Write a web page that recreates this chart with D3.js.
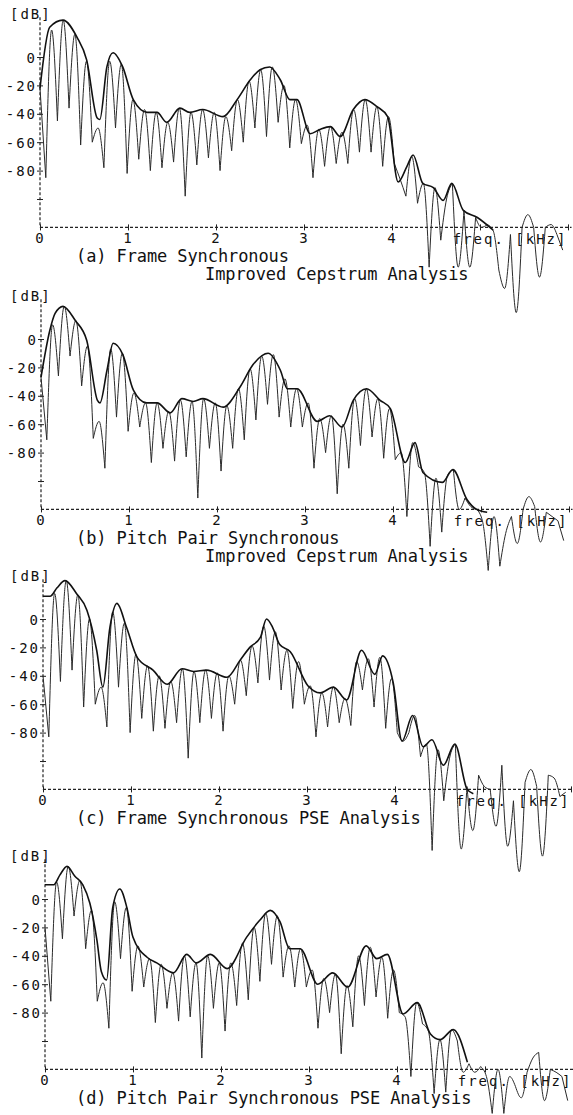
<!DOCTYPE html>
<html>
<head>
<meta charset="utf-8">
<script src="https://cdn.jsdelivr.net/npm/d3@7"></script>
<style>
    body { margin: 0; background: #fff; }
    svg { display: block; }
    .lbl { font-family: "DejaVu Sans Mono", monospace; font-size: 14px; letter-spacing: 2px; fill: #111; }
    .cap { font-family: "DejaVu Sans Mono", monospace; font-size: 17px; letter-spacing: -0.1px; fill: #111; }
</style>
</head>
<body>
<div id="chart"></div>
<script>

// tick values and labels shared by all four panels
const freqTicks = [0, 1, 2, 3, 4, 5, 6];
const freqLabels = ["0", "1", "2", "3", "4", "", ""];
const dbTicks = [0, -20, -40, -60, -80, -100];
const dbLabels = ["0", "-20", "-40", "-60", "-80", ""];

// spacing of the harmonic line samples (kHz), half a pitch period apart
const halfPitch = 0.066;

// spectral envelopes, [kHz, dB]
const envA = [[0,-22],[0.11,21],[0.26,26],[0.42,14],[0.53,-2],[0.65,-43],[0.68,-44],[0.76,-7],[0.83,3],[0.94,-7],[1.06,-30],[1.22,-39],[1.33,-39],[1.44,-46],[1.59,-36],[1.70,-39],[1.85,-37],[2.08,-42],[2.24,-30],[2.39,-16],[2.50,-9],[2.61,-7],[2.73,-16],[2.84,-30],[2.92,-30],[3.07,-54],[3.18,-51],[3.30,-49],[3.41,-56],[3.56,-37],[3.69,-30],[3.83,-35],[3.95,-42],[4.07,-88],[4.17,-77],[4.24,-69],[4.35,-89],[4.47,-92],[4.58,-101],[4.68,-89],[4.81,-108],[4.97,-113],[5.15,-122]];
const envB = [[0,-27],[0.1,6],[0.16,18],[0.25,23],[0.39,13],[0.52,-1],[0.64,-43],[0.67,-45],[0.75,-22],[0.82,-3],[0.93,-11],[1.05,-36],[1.2,-45],[1.32,-45],[1.47,-52],[1.6,-42],[1.73,-44],[1.84,-42],[2.07,-48],[2.26,-34],[2.41,-18],[2.58,-10],[2.72,-22],[2.8,-35],[2.91,-35],[3.14,-58],[3.28,-54],[3.42,-62],[3.55,-43],[3.7,-35],[3.85,-43],[3.97,-49],[4.14,-87],[4.25,-73],[4.34,-94],[4.56,-101],[4.68,-92],[4.84,-113],[4.95,-120],[5.07,-122]];
const envC = [[0,16],[0.08,16],[0.16,22],[0.25,27],[0.38,18],[0.5,6],[0.61,-22],[0.68,-48],[0.76,-6],[0.84,11],[0.95,-6],[1.07,-27],[1.25,-36],[1.41,-46],[1.58,-35],[1.71,-37],[1.86,-36],[2.09,-41],[2.24,-29],[2.35,-20],[2.47,-13],[2.54,0],[2.61,-6],[2.69,-18],[2.81,-23],[3.01,-47],[3.15,-52],[3.3,-48],[3.45,-57],[3.62,-22],[3.77,-39],[3.86,-26],[3.98,-45],[4.08,-86],[4.2,-68],[4.32,-90],[4.42,-85],[4.55,-103],[4.68,-88],[4.82,-120],[4.89,-123]];
const envD = [[0,10],[0.1,10],[0.17,17],[0.25,23],[0.34,16],[0.43,10],[0.51,-3],[0.59,-29],[0.64,-51],[0.7,-57],[0.77,-6],[0.85,7],[0.93,-6],[1.0,-27],[1.16,-41],[1.27,-45],[1.46,-52],[1.61,-39],[1.72,-45],[1.88,-39],[2.07,-49],[2.29,-27],[2.44,-15],[2.56,-8],[2.67,-16],[2.78,-35],[2.9,-35],[3.1,-60],[3.27,-52],[3.44,-62],[3.65,-33],[3.77,-42],[3.89,-39],[4.07,-81],[4.23,-73],[4.38,-95],[4.49,-99],[4.64,-92],[4.8,-115]];

// harmonic spectra (dB), one value every halfPitch kHz: peaks on even, dips on odd
const harmA = [-22,-85,19,-45,26,-36,16,-62,-3,-60,
    -50,-78,-3,-50,-5,-82,-30,-72,-37,-80,
    -39,-78,-46,-74,-36,-98,-39,-76,-37,-71,
    -39,-80,-42,-66,-30,-60,-17,-50,-9,-56,
    -7,-46,-20,-64,-30,-61,-48,-85,-51,-77,
    -49,-75,-53,-75,-37,-67,-30,-67,-35,-77,
    -42,-75,-86,-98,-70,-103,-89,-148,-92,-129,
    -100,-89,-148,-108,-148,-113,-120,-118,-122,-150,
    -163,-125,-180,-120,-111,-120,-155,-120,-118,-125,
    -136];
const harmB = [-27,-71,10,-26,23,-12,13,-33,-5,-70,
    -58,-91,-7,-55,-10,-65,-38,-62,-45,-87,
    -45,-77,-51,-86,-43,-83,-44,-112,-42,-77,
    -45,-93,-47,-77,-35,-71,-21,-57,-12,-46,
    -11,-55,-28,-62,-35,-62,-45,-91,-56,-80,
    -54,-109,-60,-91,-42,-75,-35,-69,-42,-84,
    -49,-85,-80,-125,-73,-90,-94,-146,-98,-136,
    -96,-92,-120,-112,-118,-120,-128,-163,-125,-160,
    -137,-125,-144,-120,-111,-118,-143,-122,-125,-128,
    -142];
const harmC = [-40,-83,18,-44,27,-36,17,-62,0,-60,
    -48,-76,5,-48,-3,-80,-25,-70,-33,-79,
    -40,-77,-44,-73,-35,-98,-37,-73,-36,-70,
    -38,-79,-40,-60,-29,-54,-19,-45,-5,-43,
    -9,-50,-22,-63,-30,-60,-47,-83,-52,-76,
    -48,-73,-56,-75,-30,-50,-28,-62,-27,-77,
    -42,-80,-86,-80,-68,-97,-88,-163,-92,-128,
    -98,-88,-162,-118,-149,-110,-118,-120,-146,-103,
    -160,-128,-178,-115,-106,-118,-167,-110,-112,-125,
    -122];
const harmD = [-20,-72,12,-28,23,-12,13,-35,-8,-72,
    -59,-91,-2,-42,-6,-65,-33,-62,-42,-87,
    -46,-77,-52,-86,-40,-83,-45,-112,-40,-77,
    -45,-93,-45,-75,-31,-71,-20,-58,-10,-46,
    -12,-55,-33,-62,-35,-62,-50,-91,-56,-80,
    -53,-109,-61,-90,-40,-75,-34,-69,-41,-84,
    -50,-80,-83,-125,-73,-88,-93,-137,-99,-136,
    -92,-100,-122,-116,-122,-118,-125,-151,-120,-151,
    -125,-132,-140,-122,-112,-108,-142,-120,-122,-125,
    -142];

const captions = [
    ["(a) Frame Synchronous", "Improved Cepstrum Analysis"],
    ["(b) Pitch Pair Synchronous", "Improved Cepstrum Analysis"],
    ["(c) Frame Synchronous PSE Analysis"],
    ["(d) Pitch Pair Synchronous PSE Analysis"]
];

const panels = [
    { env: envA, harm: harmA, cap: captions[0], top: 0, left: 40 },
    { env: envB, harm: harmB, cap: captions[1], top: 282, left: 41 },
    { env: envC, harm: harmC, cap: captions[2], top: 562, left: 43 },
    { env: envD, harm: harmD, cap: captions[3], top: 842, left: 45 }
];

const width = 573, height = 1115;
const pxPerKHz = 88, pxPerDb = 1.42, zeroDbY = 57;

const svg = d3.select("#chart").append("svg")
    .attr("width", width)
    .attr("height", height);

panels.forEach(p => {

    let x = d3.scaleLinear().domain([0, 6]).range([p.left, p.left + 6 * pxPerKHz]);
    let y = d3.scaleLinear().domain([0, -120]).range([p.top + zeroDbY, p.top + zeroDbY + 120 * pxPerDb]);

    let g = svg.append("g");

    // dashed axes
    g.append("line")
        .attr("x1", x(0)).attr("x2", x(6.04))
        .attr("y1", y(-120)).attr("y2", y(-120))
        .attr("stroke", "#222").attr("stroke-width", 1.2)
        .attr("stroke-dasharray", "3,2");

    g.append("line")
        .attr("x1", x(0)).attr("x2", x(0))
        .attr("y1", y(28)).attr("y2", y(-120))
        .attr("stroke", "#222").attr("stroke-width", 1.2)
        .attr("stroke-dasharray", "3,2");

    let xAxis = d3.axisBottom(x)
        .tickValues(freqTicks)
        .tickFormat((d, i) => freqLabels[i])
        .tickSizeInner(3)
        .tickSizeOuter(0);

    let xg = g.append("g")
        .attr("transform", `translate(0,${y(-120)})`)
        .call(xAxis)
        .attr("font-family", null).attr("font-size", null);
    xg.select(".domain").remove();
    xg.selectAll(".tick line").attr("y1", -3).attr("y2", 3).attr("stroke", "#222");
    xg.selectAll(".tick text").attr("class", "lbl").attr("dy", null).attr("y", 16);

    let yAxis = d3.axisLeft(y)
        .tickValues(dbTicks)
        .tickFormat((d, i) => dbLabels[i])
        .tickSizeInner(3)
        .tickSizeOuter(0);

    let yg = g.append("g")
        .attr("transform", `translate(${x(0)},0)`)
        .call(yAxis)
        .attr("font-family", null).attr("font-size", null);
    yg.select(".domain").remove();
    yg.selectAll(".tick line").attr("x1", -3).attr("x2", 3).attr("stroke", "#222");
    yg.selectAll(".tick text").attr("class", "lbl").attr("x", -3).attr("dy", "0.36em");

    g.append("text").attr("class", "lbl")
        .attr("x", 10).attr("y", y(0) - 38)
        .text("[dB]");

    g.append("text").attr("class", "lbl")
        .attr("x", x(4.69)).attr("y", y(-120) + 17)
        .text("freq. [kHz]");

    // harmonic spectrum: each lobe runs dip to dip, so dips stay sharp
    let harmPts = p.harm.map((v, i) => [i * halfPitch, v]);
    let lobe = d3.line()
        .x(d => x(d[0]))
        .y(d => y(d[1]))
        .curve(d3.curveMonotoneX);

    let cuts = [0];
    for (let i = 1; i < harmPts.length; i += 2) cuts.push(i);
    if (cuts[cuts.length - 1] !== harmPts.length - 1) cuts.push(harmPts.length - 1);

    let pathStr = "";
    for (let k = 0; k < cuts.length - 1; k++) {
        pathStr += lobe(harmPts.slice(cuts[k], cuts[k + 1] + 1));
    }

    g.append("path")
        .attr("d", pathStr)
        .attr("fill", "none")
        .attr("stroke", "#2a2a2a")
        .attr("stroke-width", 1);

    // envelope
    let envLine = d3.line()
        .x(d => x(d[0]))
        .y(d => y(d[1]))
        .curve(d3.curveMonotoneX);

    g.append("path")
        .datum(p.env)
        .attr("d", envLine)
        .attr("fill", "none")
        .attr("stroke", "#111")
        .attr("stroke-width", 1.6);

    // caption
    g.append("text").attr("class", "cap")
        .attr("x", 76).attr("y", y(-120) + 35)
        .text(p.cap[0]);

    if (p.cap[1]) {
        g.append("text").attr("class", "cap")
            .attr("x", 205).attr("y", y(-120) + 53)
            .text(p.cap[1]);
    }

});

</script>
</body>
</html>
